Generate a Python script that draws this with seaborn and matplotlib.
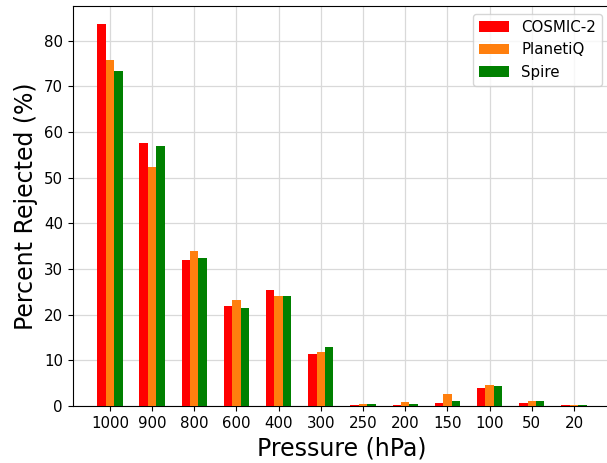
import matplotlib
matplotlib.use("Agg")
import matplotlib.pyplot as plt
import seaborn as sns
import pandas as pd

pressure = ["1000", "900", "800", "600", "400", "300", "250", "200", "150", "100", "50", "20"]
cosmic2 = [83.6, 57.5, 31.9, 21.9, 25.4, 11.4, 0.2, 0.3, 0.7, 4.0, 0.7, 0.3]
planetiq = [75.7, 52.3, 33.9, 23.2, 24.1, 11.8, 0.4, 0.8, 2.6, 4.7, 1.2, 0.2]
spire = [73.4, 56.9, 32.4, 21.4, 24.1, 12.9, 0.5, 0.5, 1.2, 4.5, 1.0, 0.2]
series = ["COSMIC-2", "PlanetiQ", "Spire"]
colors = ["#ff0000", "#ff7f0e", "#008000"]

rows = []
for name, vals in zip(series, [cosmic2, planetiq, spire]):
    for p, v in zip(pressure, vals):
        rows.append({"Pressure": p, "Value": v, "Mission": name})
df = pd.DataFrame(rows)

fig = plt.figure(figsize=(6.07, 4.63), dpi=100)
ax = fig.add_axes([0.1198, 0.123, 0.887, 0.864])
sns.barplot(data=df, x="Pressure", y="Value", hue="Mission", order=pressure,
            hue_order=series, palette=colors, width=0.6, linewidth=0,
            saturation=1, errorbar=None, ax=ax, zorder=3)
ax.set_xlim(-0.88, 11.88)
ax.set_ylim(0, 87.6)
ax.grid(True, color="#d9d9d9", linewidth=0.9, zorder=0)
ax.set_axisbelow(True)
ax.set_xlabel("Pressure (hPa)", fontsize=17)
ax.set_ylabel("Percent Rejected (%)", fontsize=17)
ax.tick_params(labelsize=10.8)
ax.legend(loc="upper right", bbox_to_anchor=(0.992, 0.970), borderaxespad=0,
          bbox_transform=fig.transFigure, fontsize=10.8, title=None)
fig.savefig("out.png", dpi=100)
